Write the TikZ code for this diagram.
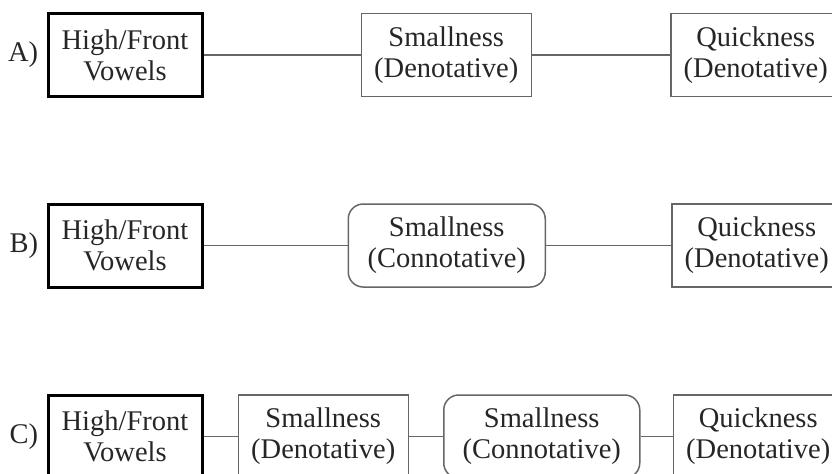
\documentclass[tikz,border=0pt]{standalone}
\usepackage{fontspec}
\setmainfont{Liberation Serif}
\usetikzlibrary{positioning}

\tikzset{
	txt/.style={font=\fontsize{14.25}{15.5}\selectfont, align=center, inner sep=0pt, text=black!85},
	vowelbox/.style={txt, draw=black, line width=1.5pt, minimum width=77pt, minimum height=41.5pt},
	denbox/.style={txt, draw=black!60, line width=0.75pt, minimum width=85pt, minimum height=41.5pt},
	conbox/.style={denbox, rounded corners=7.5pt, minimum width=98.5pt},
	link/.style={draw=black!60, line width=0.75pt}
}

\begin{document}
\begin{tikzpicture}[x=0.5pt, y=-0.5pt]
		\useasboundingbox (0,0) rectangle (832,473);

		\node (1)[vowelbox] at (125,55) {High/Front\\Vowels};
		\node (2)[denbox, right=78.5pt of 1] {Smallness\\(Denotative)};
		\node (3)[denbox, right=69pt of 2] {Quickness\\(Denotative)};

		\node (4)[vowelbox] at (125,245.5) {High/Front\\Vowels};
		\node (5)[conbox, right=72pt of 4] {Smallness\\(Connotative)};
		\node (6)[denbox, right=62.5pt of 5] {Quickness\\(Denotative)};

		\node (7)[vowelbox] at (125,436.5) {High/Front\\Vowels};
		\node (8)[denbox, right=17pt of 7] {Smallness\\(Denotative)};
		\node (9)[conbox, minimum width=98pt, right=17pt of 8] {Smallness\\(Connotative)};
		\node (10)[denbox, right=16pt of 9] {Quickness\\(Denotative)};

		\node (l1)[txt, left=4pt of 1] {A)};
		\node (l2)[txt, left=4pt of 4] {B)};
		\node (l3)[txt, left=4pt of 7] {C)};

		\draw [link](1) to (2);
		\draw [link](2) to (3);

		\draw [link](4) to (5);
		\draw [link](5) to (6);

		\draw [link](7) to (8);
		\draw [link](8) to (9);
		\draw [link](9) to (10);
	\end{tikzpicture}
\end{document}
